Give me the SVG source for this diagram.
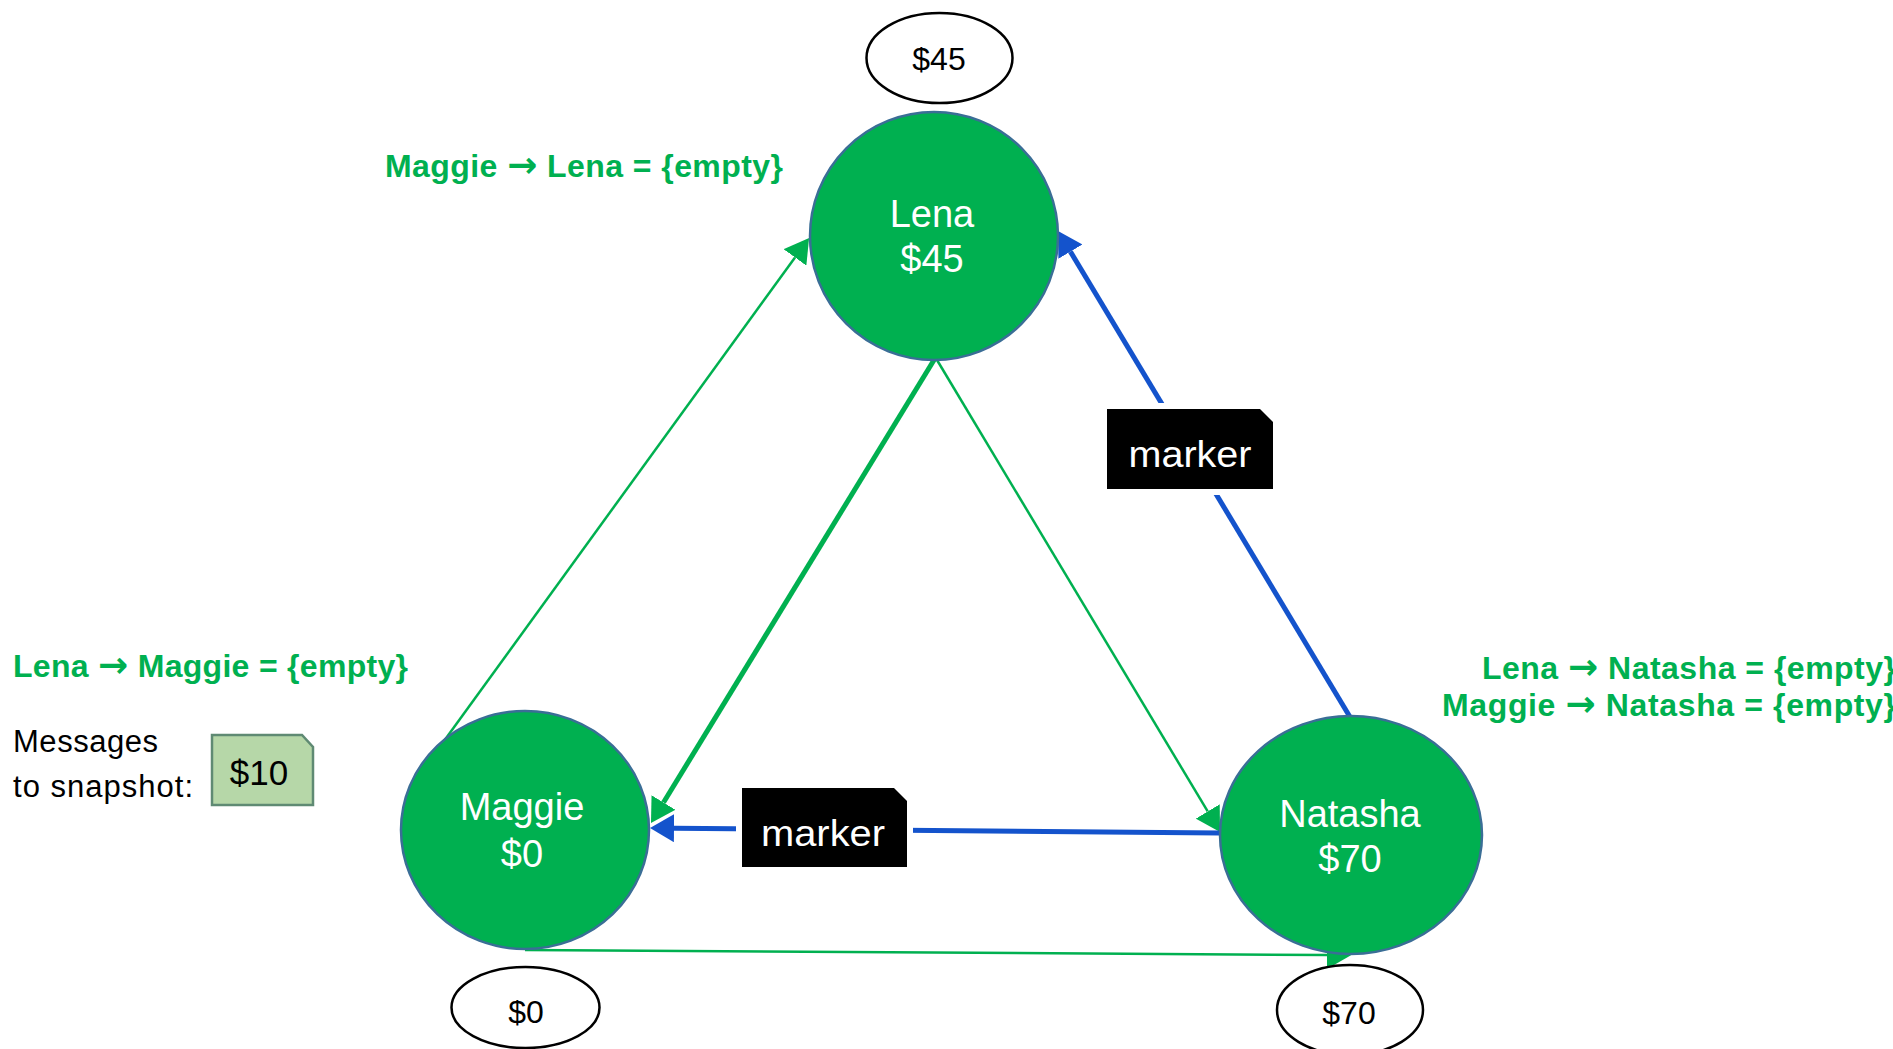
<svg xmlns="http://www.w3.org/2000/svg" width="1893" height="1049" viewBox="0 0 1893 1049">
  <style>
    .node { fill: #00B050; stroke: #3A6E96; stroke-width: 2.5; }
    .node-text { font-family: "Liberation Sans", Arial, sans-serif; font-size: 38px; fill: #ffffff; text-anchor: middle; }
    .bal { fill: #ffffff; stroke: #000000; stroke-width: 2.5; }
    .bal-text { font-family: "Liberation Sans", Arial, sans-serif; font-size: 32px; fill: #000000; text-anchor: middle; }
    .chan { font-family: "Liberation Sans", Arial, sans-serif; font-size: 32px; font-weight: bold; fill: #00B050; }
    .arr { font-family: "DejaVu Sans", sans-serif; font-weight: bold; font-size: 36px; }
    .plain { font-family: "Liberation Sans", Arial, sans-serif; font-size: 31px; fill: #000000; }
    .edge-green { stroke: #00B050; stroke-width: 2.5; fill: none; }
    .edge-green-thick { stroke: #00B050; stroke-width: 5; fill: none; }
    .edge-blue { stroke: #1453CC; stroke-width: 5; fill: none; }
    .mk-box { fill: #000000; stroke: #ffffff; stroke-width: 12; paint-order: stroke; stroke-linejoin: miter; }
    .mk-text { font-family: "Liberation Sans", Arial, sans-serif; font-size: 37px; fill: #ffffff; text-anchor: middle; }
    .msg-box { fill: #B6D7A8; stroke: #5F8A73; stroke-width: 2.5; }
    .msg-text { font-family: "Liberation Sans", Arial, sans-serif; font-size: 35px; fill: #000000; text-anchor: middle; }
  </style>
  <defs>
    <marker id="arrow-green" viewBox="0 0 24 28" refX="0" refY="14" markerWidth="24" markerHeight="28" markerUnits="userSpaceOnUse" orient="auto">
      <path d="M0,0 L24,14 L0,28 Z" fill="#00B050"/>
    </marker>
    <marker id="arrow-blue" viewBox="0 0 24 28" refX="0" refY="14" markerWidth="24" markerHeight="28" markerUnits="userSpaceOnUse" orient="auto">
      <path d="M0,0 L24,14 L0,28 Z" fill="#1453CC"/>
    </marker>
  </defs>

  <!-- channels between processes -->
  <g id="connectors">
    <line class="edge-green" x1="444" y1="741" x2="795" y2="257.4" marker-end="url(#arrow-green)"/>
    <line class="edge-green-thick" x1="934" y1="360" x2="663.5" y2="802.5" marker-end="url(#arrow-green)"/>
    <line class="edge-green" x1="937" y1="360" x2="1207.7" y2="811.4" marker-end="url(#arrow-green)"/>
    <line class="edge-green" x1="525" y1="950" x2="1327" y2="955" marker-end="url(#arrow-green)"/>
    <line class="edge-blue" x1="1350" y1="717" x2="1070.4" y2="251.6" marker-end="url(#arrow-blue)"/>
    <line class="edge-blue" x1="1220" y1="833" x2="674" y2="828.2" marker-end="url(#arrow-blue)"/>
  </g>

  <!-- marker messages in flight -->
  <g id="marker-natasha-lena">
    <path class="mk-box" d="M1107,409 L1260,409 L1273,422 L1273,489 L1107,489 Z"/>
    <text class="mk-text" x="1190" y="467" textLength="123" lengthAdjust="spacingAndGlyphs">marker</text>
  </g>
  <g id="marker-natasha-maggie">
    <path class="mk-box" d="M742,788 L894,788 L907,801 L907,867 L742,867 Z"/>
    <text class="mk-text" x="823" y="846" textLength="124" lengthAdjust="spacingAndGlyphs">marker</text>
  </g>

  <!-- processes -->
  <g id="node-lena">
    <circle class="node" cx="934" cy="236" r="124"/>
    <text class="node-text" x="932" y="227">Lena</text>
    <text class="node-text" x="932" y="272">$45</text>
  </g>
  <g id="node-maggie">
    <ellipse class="node" cx="525" cy="830" rx="124" ry="119"/>
    <text class="node-text" x="522" y="820">Maggie</text>
    <text class="node-text" x="522" y="867">$0</text>
  </g>
  <g id="node-natasha">
    <ellipse class="node" cx="1351" cy="835" rx="131" ry="119"/>
    <text class="node-text" x="1350" y="827">Natasha</text>
    <text class="node-text" x="1350" y="872">$70</text>
  </g>

  <!-- recorded snapshot balances -->
  <g id="snap-lena">
    <ellipse class="bal" cx="939.5" cy="58" rx="73" ry="45"/>
    <text class="bal-text" x="939" y="70">$45</text>
  </g>
  <g id="snap-maggie">
    <ellipse class="bal" cx="525.5" cy="1007.5" rx="74" ry="40.5"/>
    <text class="bal-text" x="526" y="1023">$0</text>
  </g>
  <g id="snap-natasha">
    <ellipse class="bal" cx="1350" cy="1010" rx="73" ry="45"/>
    <text class="bal-text" x="1349" y="1024">$70</text>
  </g>

  <!-- channel states -->
  <g id="chan-maggie-lena">
    <text class="chan" x="385" y="177" textLength="398" lengthAdjust="spacing">Maggie <tspan class="arr">→</tspan> Lena = {empty}</text>
  </g>
  <g id="chan-lena-maggie">
    <text class="chan" x="13" y="677" textLength="395" lengthAdjust="spacing">Lena <tspan class="arr">→</tspan> Maggie = {empty}</text>
  </g>
  <g id="chan-to-natasha">
    <text class="chan" x="1896" y="679" text-anchor="end" textLength="414" lengthAdjust="spacing">Lena <tspan class="arr">→</tspan> Natasha = {empty}</text>
    <text class="chan" x="1896" y="716" text-anchor="end" textLength="454" lengthAdjust="spacing">Maggie <tspan class="arr">→</tspan> Natasha = {empty}</text>
  </g>

  <!-- recorded in-transit messages -->
  <g id="messages">
    <text class="plain" x="13" y="752" textLength="145" lengthAdjust="spacing">Messages</text>
    <text class="plain" x="13" y="797" textLength="180" lengthAdjust="spacing">to snapshot:</text>
    <path class="msg-box" d="M212,735 L302,735 L313,747 L313,805 L212,805 Z"/>
    <text class="msg-text" x="259" y="785">$10</text>
  </g>
</svg>
